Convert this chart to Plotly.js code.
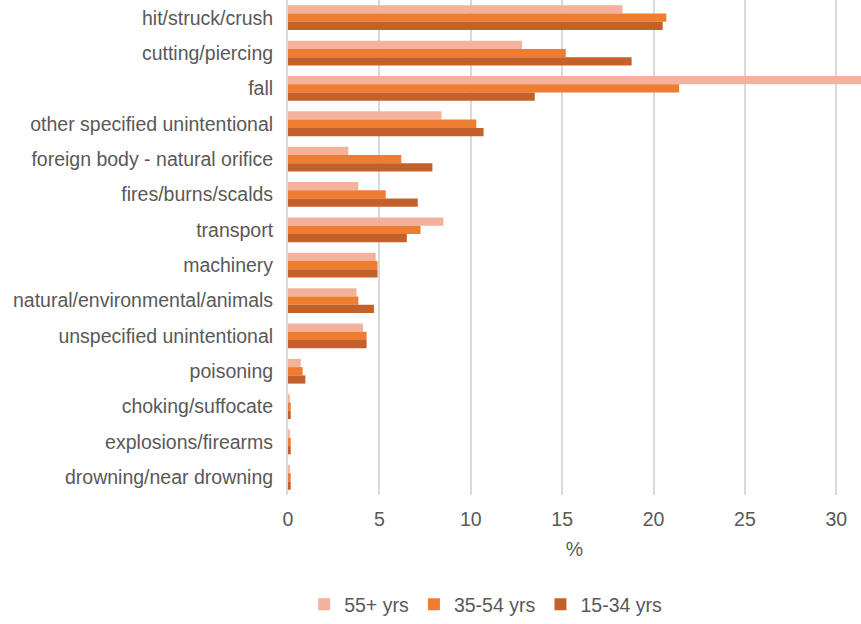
<!DOCTYPE html>
<html>
<head>
<meta charset="utf-8">
<script src="https://cdn.plot.ly/plotly-3.0.1.min.js"></script>
<style>
  html, body { margin: 0; padding: 0; background: #ffffff; }
  #chart { width: 861px; height: 624px; }
</style>
</head>
<body>
<div id="chart"></div>
<script>
// Injury mechanism categories (top to bottom)
const categories = [
  "hit/struck/crush",
  "cutting/piercing",
  "fall",
  "other specified unintentional",
  "foreign body - natural orifice",
  "fires/burns/scalds",
  "transport",
  "machinery",
  "natural/environmental/animals",
  "unspecified unintentional",
  "poisoning",
  "choking/suffocate",
  "explosions/firearms",
  "drowning/near drowning"
];

// Percentage of injuries by age group
const age55plus = [18.3, 12.8, 32.0, 8.4, 3.3, 3.85, 8.5, 4.8, 3.75, 4.1, 0.7, 0.1, 0.1, 0.1];
const age35to54 = [20.7, 15.2, 21.4, 10.3, 6.2, 5.35, 7.25, 4.9, 3.85, 4.3, 0.8, 0.15, 0.15, 0.15];
const age15to34 = [20.5, 18.8, 13.5, 10.7, 7.9, 7.1, 6.5, 4.9, 4.7, 4.3, 0.95, 0.15, 0.15, 0.15];

const seriesNames = ["55+ yrs", "35-54 yrs", "15-34 yrs"];
const seriesColors = ["#F4B29C", "#EE7D32", "#C4612A"];
const xTicks = [0, 5, 10, 15, 20, 25, 30];

const seriesValues = [age55plus, age35to54, age15to34];
const traces = seriesValues.map((vals, i) => ({
  type: "bar",
  orientation: "h",
  name: seriesNames[i],
  x: vals,
  y: categories,
  marker: { color: seriesColors[i] },
  hoverinfo: "x+name"
}));

const textColor = "#595959";
const fontSize = 19.5;

const layout = {
  width: 861,
  height: 624,
  paper_bgcolor: "#ffffff",
  plot_bgcolor: "#ffffff",
  font: { family: "Liberation Sans, Arial, sans-serif", size: fontSize, color: textColor },
  margin: { l: 288, r: 0, t: 0, b: 127 },
  barmode: "group",
  bargap: 0.3,
  bargroupgap: 0,
  showlegend: true,
  legend: {
    orientation: "h",
    x: 0.345,
    xanchor: "center",
    y: -0.222,
    yanchor: "middle",
    font: { size: fontSize, color: textColor },
    itemwidth: 30,
    traceorder: "normal"
  },
  xaxis: {
    range: [0, 31.35],
    tickvals: xTicks,
    ticktext: xTicks.map(String),
    showgrid: true,
    gridcolor: "#D9D9D9",
    gridwidth: 2,
    zeroline: false,
    showline: false,
    ticks: "",
    ticklabelstandoff: 10,
    tickfont: { size: fontSize, color: textColor },
    title: { text: "%", font: { size: fontSize, color: textColor }, standoff: 13 }
  },
  yaxis: {
    autorange: "reversed",
    showgrid: false,
    zeroline: false,
    showline: true,
    linecolor: "#D9D9D9",
    linewidth: 2,
    ticks: "",
    ticklabelstandoff: 9,
    tickfont: { size: fontSize, color: textColor }
  }
};

Plotly.newPlot("chart", traces, layout, { displayModeBar: false, staticPlot: true });
</script>
</body>
</html>
